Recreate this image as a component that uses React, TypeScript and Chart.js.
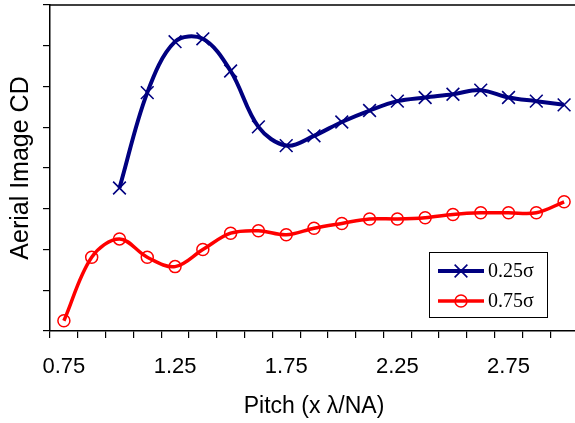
import React, { useEffect, useRef } from 'react';
import { Chart, registerables } from 'chart.js';

Chart.register(...registerables);

// Pitch categories (x λ/NA), step 0.125
const PITCH = ['0.75', '0.875', '1.0', '1.125', '1.25', '1.375', '1.5', '1.625', '1.75', '1.875', '2.0', '2.125', '2.25', '2.375', '2.5', '2.625', '2.75', '2.875', '3.0'];
// Tick labels shown on the x axis
const X_TICK_LABELS = ['0.75', '1.25', '1.75', '2.25', '2.75'];
const SERIES_LABELS = ['0.25σ', '0.75σ'];
// Aerial image CD (arbitrary units, axis 0..8)
const SIGMA_025 = [null, null, 3.51, 5.85, 7.1, 7.17, 6.38, 5.01, 4.55, 4.79, 5.13, 5.41, 5.64, 5.73, 5.81, 5.91, 5.73, 5.64, 5.55];
const SIGMA_075 = [0.25, 1.81, 2.26, 1.81, 1.58, 2.0, 2.4, 2.46, 2.36, 2.52, 2.64, 2.75, 2.75, 2.78, 2.86, 2.9, 2.9, 2.9, 3.17];
const Y_MIN = 0;
const Y_MAX = 8;

const BLUE = '#000080';
const RED = '#FF0000';

const framePlugin = {
  id: 'frame',
  afterDraw(chart: any) {
    const { ctx, chartArea } = chart;
    ctx.save();
    ctx.strokeStyle = '#000';
    ctx.lineWidth = 1.5;
    ctx.beginPath();
    ctx.moveTo(chartArea.left, chartArea.top);
    ctx.lineTo(chartArea.right, chartArea.top);
    ctx.lineTo(chartArea.right, chartArea.bottom);
    ctx.stroke();
    ctx.restore();
  },
};

const legendPlugin = {
  id: 'boxLegend',
  afterDraw(chart: any) {
    const { ctx, chartArea } = chart;
    const bx = chartArea.left + 379;
    const by = chartArea.top + 247;
    const bw = 118;
    const bh = 65;
    ctx.save();
    ctx.fillStyle = '#fff';
    ctx.fillRect(bx, by, bw, bh);
    ctx.strokeStyle = '#000';
    ctx.lineWidth = 1;
    ctx.strokeRect(bx + 0.5, by + 0.5, bw, bh);
    chart.data.datasets.forEach((ds: any, i: number) => {
      const y = by + 19 + i * 30;
      const x0 = bx + 9;
      const x1 = bx + 55;
      const cx = (x0 + x1) / 2;
      ctx.strokeStyle = ds.borderColor;
      ctx.lineWidth = ds.borderWidth;
      ctx.beginPath();
      ctx.moveTo(x0, y);
      ctx.lineTo(x1, y);
      ctx.stroke();
      ctx.lineWidth = ds.pointBorderWidth;
      ctx.strokeStyle = ds.pointBorderColor;
      ctx.beginPath();
      if (ds.pointStyle === 'crossRot') {
        const r = ds.pointRadius * Math.SQRT1_2;
        ctx.moveTo(cx - r, y - r);
        ctx.lineTo(cx + r, y + r);
        ctx.moveTo(cx - r, y + r);
        ctx.lineTo(cx + r, y - r);
      } else {
        ctx.arc(cx, y, ds.pointRadius, 0, Math.PI * 2);
      }
      ctx.stroke();
      ctx.fillStyle = '#000';
      ctx.font = "20px 'Liberation Serif', 'Times New Roman', serif";
      ctx.textBaseline = 'middle';
      ctx.textAlign = 'left';
      ctx.fillText(ds.label, bx + 59, y + 1);
    });
    ctx.restore();
  },
};

export default function App() {
  const ref = useRef<HTMLCanvasElement | null>(null);

  useEffect(() => {
    if (!ref.current) return;
    const chart = new Chart(ref.current, {
      type: 'line',
      data: {
        labels: PITCH,
        datasets: [
          {
            label: SERIES_LABELS[0],
            data: SIGMA_025,
            borderColor: BLUE,
            backgroundColor: BLUE,
            borderWidth: 4,
            tension: 0.35,
            pointStyle: 'crossRot',
            pointRadius: 9,
            pointBorderWidth: 1.6,
            pointBorderColor: BLUE,
            pointBackgroundColor: 'rgba(0,0,0,0)',
          },
          {
            label: SERIES_LABELS[1],
            data: SIGMA_075,
            borderColor: RED,
            backgroundColor: RED,
            borderWidth: 3.5,
            tension: 0.35,
            pointStyle: 'circle',
            pointRadius: 6,
            pointBorderWidth: 1.5,
            pointBorderColor: RED,
            pointBackgroundColor: 'rgba(0,0,0,0)',
          },
        ],
      },
      options: {
        responsive: false,
        animation: false,
        events: [],
        layout: { autoPadding: false, padding: { left: 6, top: 5, right: 12, bottom: 0 } },
        plugins: {
          legend: { display: false },
          tooltip: { enabled: false },
        },
        scales: {
          x: {
            type: 'category',
            offset: true,
            afterFit: (scale: any) => {
              scale.height = 92;
            },
            grid: {
              offset: true,
              drawOnChartArea: false,
              drawTicks: true,
              tickLength: 7,
              color: '#000',
              lineWidth: 1.2,
            },
            border: { display: true, color: '#000', width: 1.5 },
            ticks: {
              autoSkip: false,
              maxRotation: 0,
              minRotation: 0,
              padding: 16,
              color: '#000',
              font: { family: "'Liberation Sans', Arial, sans-serif", size: 22 },
              callback: function (this: any, value: any) {
                const lab = this.getLabelForValue(value);
                return X_TICK_LABELS.includes(lab) ? lab : '';
              },
            },
            title: {
              display: true,
              text: 'Pitch (x λ/NA)',
              color: '#000',
              font: { family: "'Liberation Sans', Arial, sans-serif", size: 23 },
              padding: { top: 15, bottom: 3 },
            },
          },
          y: {
            type: 'linear',
            min: Y_MIN,
            max: Y_MAX,
            grid: {
              drawOnChartArea: false,
              drawTicks: true,
              tickLength: 7,
              color: '#000',
              lineWidth: 1.2,
            },
            border: { display: true, color: '#000', width: 1.5 },
            ticks: { display: false, stepSize: 1 },
            title: {
              display: true,
              text: 'Aerial Image CD',
              color: '#000',
              font: { family: "'Liberation Sans', Arial, sans-serif", size: 25 },
              padding: { top: 0, bottom: 7 },
            },
          },
        },
      },
      plugins: [framePlugin, legendPlugin],
    });
    return () => chart.destroy();
  }, []);

  return (
    <div style={{ position: 'fixed', left: 0, top: 0, width: 575, height: 423, overflow: 'hidden', background: '#fff' }}>
      <canvas ref={ref} width={590} height={423} style={{ display: 'block' }} />
    </div>
  );
}
